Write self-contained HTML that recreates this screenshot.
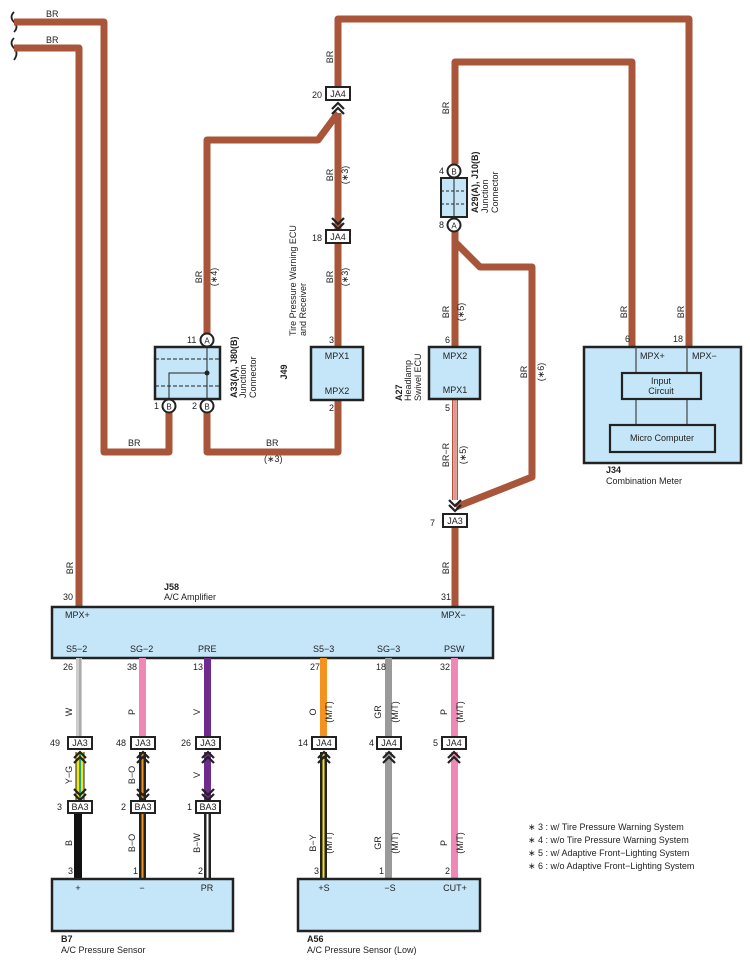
<!DOCTYPE html>
<html><head><meta charset="utf-8"><style>
html,body{margin:0;padding:0;background:#fff}
svg{display:block}
text{font-family:"Liberation Sans",sans-serif;font-size:9px;fill:#222}
.b{font-weight:bold}
.w{fill:none;stroke:#a9553a;stroke-width:7;stroke-linejoin:round}
.box{fill:#c5e6f8;stroke:#222;stroke-width:2.5}
.cn{fill:#fff;stroke:#222;stroke-width:2}
.ch{fill:none;stroke:#222;stroke-width:2.2}
</style></head><body>
<svg width="750" height="965" viewBox="0 0 750 965" xmlns="http://www.w3.org/2000/svg">
<defs>
<g id="up"><polyline class="ch" points="-6,6 0,0 6,6"/><polyline class="ch" points="-6,11 0,5 6,11"/></g>
<g id="dn"><polyline class="ch" points="-6,-6 0,0 6,-6"/><polyline class="ch" points="-6,-11 0,-5 6,-11"/></g>
</defs>
<path d="M14,12 q-5,5 0,10 q5,5 0,10" fill="none" stroke="#222" stroke-width="1.8"/>
<path d="M14,38 q-5,5 0,10 q5,5 0,12" fill="none" stroke="#222" stroke-width="1.8"/>
<text x="46" y="17">BR</text><text x="46" y="43">BR</text>
<path class="w" d="M14,22 H104 V452 H169 V411"/>
<path class="w" d="M14,48 H79 V608"/>
<text x="128" y="446">BR</text>
<path class="w" d="M338,101 V19 H689 V346"/>
<path class="w" d="M338,113 L318,140 H207 V334"/>
<path class="w" d="M338,113 V230"/>
<path class="w" d="M338,244 V346"/>
<path class="w" d="M338,400 V452 H207 V411"/>
<text x="266" y="446">BR</text><text x="264" y="462">(∗3)</text>
<path class="w" d="M455,164 V62 H632 V346"/>
<path class="w" d="M455,231 V346"/>
<path class="w" d="M455,242 L480,267 H532 V477 L456,507"/>
<path class="w" d="M455,528 V608"/>
<line x1="455" y1="400" x2="455" y2="500" stroke="#a9553a" stroke-width="6"/>
<line x1="455" y1="400" x2="455" y2="500" stroke="#fff" stroke-width="3"/>
<line x1="455" y1="400" x2="455" y2="500" stroke="#d23" stroke-width="1"/>
<g transform="rotate(-90)">
<text x="-57" y="333" text-anchor="middle">BR</text>
<text x="-108" y="449" text-anchor="middle">BR</text>
<text x="-175" y="333" text-anchor="middle">BR</text><text x="-175" y="348" text-anchor="middle">(∗3)</text>
<text x="-277" y="333" text-anchor="middle">BR</text><text x="-277" y="348" text-anchor="middle">(∗3)</text>
<text x="-277" y="202" text-anchor="middle">BR</text><text x="-277" y="217" text-anchor="middle">(∗4)</text>
<text x="-312" y="449" text-anchor="middle">BR</text><text x="-312" y="464" text-anchor="middle">(∗5)</text>
<text x="-312" y="627" text-anchor="middle">BR</text><text x="-312" y="684" text-anchor="middle">BR</text>
<text x="-372" y="527" text-anchor="middle">BR</text><text x="-372" y="544" text-anchor="middle">(∗6)</text>
<text x="-455" y="449" text-anchor="middle">BR−R</text><text x="-455" y="466" text-anchor="middle">(∗5)</text>
<text x="-568" y="73" text-anchor="middle">BR</text><text x="-568" y="449" text-anchor="middle">BR</text>
<text x="-372" y="287" text-anchor="middle" class="b">J49</text>
<text x="-336" y="296">Tire Pressure Warning ECU</text>
<text x="-336" y="306">and Receiver</text>
<text x="-398" y="237" class="b">A33(A), J80(B)</text>
<text x="-398" y="246">Junction</text>
<text x="-398" y="256">Connector</text>
<text x="-213" y="478" class="b">A29(A), J10(B)</text>
<text x="-213" y="488">Junction</text>
<text x="-213" y="498">Connector</text>
<text x="-401" y="402" class="b">A27</text>
<text x="-401" y="411">Headlamp</text>
<text x="-401" y="421">Swivel ECU</text>
</g>
<text x="312" y="98">20</text><rect class="cn" x="326" y="87" width="24" height="13"/><text x="338" y="97" text-anchor="middle">JA4</text>
<use href="#up" x="338" y="103"/>
<use href="#dn" x="338" y="229"/>
<text x="312" y="241">18</text><rect class="cn" x="326" y="230" width="24" height="13"/><text x="338" y="240" text-anchor="middle">JA4</text>
<rect class="box" x="155" y="347" width="65" height="52"/>
<line x1="155" y1="359" x2="220" y2="359" stroke="#222" stroke-dasharray="4,2"/>
<line x1="155" y1="386" x2="220" y2="386" stroke="#222" stroke-dasharray="4,2"/>
<polyline points="169,406 169,373 207,373" fill="none" stroke="#222" stroke-width="1"/>
<line x1="207" y1="340" x2="207" y2="406" stroke="#222" stroke-width="1"/>
<circle cx="207" cy="373" r="2.5" fill="#222"/>
<circle cx="207" cy="340" r="6.5" fill="#fff" stroke="#222" stroke-width="2"/><text x="207" y="343.5" text-anchor="middle" style="font-size:8px">A</text>
<circle cx="169" cy="406" r="6.5" fill="#fff" stroke="#222" stroke-width="2"/><text x="169" y="409.5" text-anchor="middle" style="font-size:8px">B</text>
<circle cx="207" cy="406" r="6.5" fill="#fff" stroke="#222" stroke-width="2"/><text x="207" y="409.5" text-anchor="middle" style="font-size:8px">B</text>
<text x="187" y="343">11</text><text x="154" y="409">1</text><text x="192" y="409">2</text>
<rect class="box" x="311" y="347" width="52" height="53"/>
<text x="337" y="359" text-anchor="middle">MPX1</text><text x="337" y="394" text-anchor="middle">MPX2</text>
<text x="329" y="343">3</text><text x="329" y="411">2</text>
<rect x="441" y="178" width="26" height="39" fill="#c5e6f8" stroke="#222" stroke-width="2"/>
<line x1="454" y1="178" x2="454" y2="217" stroke="#222"/>
<line x1="441" y1="191" x2="467" y2="191" stroke="#222" stroke-dasharray="3,2"/>
<line x1="441" y1="204" x2="467" y2="204" stroke="#222" stroke-dasharray="3,2"/>
<circle cx="454" cy="171" r="6.5" fill="#fff" stroke="#222" stroke-width="2"/><text x="454" y="174.5" text-anchor="middle" style="font-size:8px">B</text>
<circle cx="454" cy="225" r="6.5" fill="#fff" stroke="#222" stroke-width="2"/><text x="454" y="228.5" text-anchor="middle" style="font-size:8px">A</text>
<text x="439" y="174">4</text><text x="439" y="228">8</text>
<rect class="box" x="429" y="347" width="51" height="52"/>
<text x="455" y="359" text-anchor="middle">MPX2</text><text x="455" y="393" text-anchor="middle">MPX1</text>
<text x="445" y="343">6</text><text x="445" y="411">5</text>
<use href="#dn" x="455" y="511"/>
<text x="430" y="526">7</text><rect class="cn" x="443" y="514" width="24" height="13"/><text x="455" y="524" text-anchor="middle">JA3</text>
<rect class="box" x="584" y="347" width="157" height="116"/>
<line x1="636" y1="347" x2="636" y2="425" stroke="#444" stroke-width="1.2"/>
<line x1="687" y1="347" x2="687" y2="425" stroke="#444" stroke-width="1.2"/>
<rect x="622" y="373" width="79" height="26" fill="#c5e6f8" stroke="#222" stroke-width="2.2"/>
<text x="661" y="384" text-anchor="middle">Input</text><text x="661" y="394" text-anchor="middle">Circuit</text>
<rect x="610" y="425" width="105" height="27" fill="#c5e6f8" stroke="#222" stroke-width="2.2"/>
<text x="662" y="441" text-anchor="middle">Micro Computer</text>
<text x="640" y="359">MPX+</text><text x="692" y="359">MPX−</text>
<text x="625" y="342">6</text><text x="673" y="342">18</text>
<text x="606" y="473" class="b">J34</text><text x="606" y="484">Combination Meter</text>
<text x="164" y="590" class="b">J58</text><text x="164" y="600">A/C Amplifier</text>
<text x="63" y="600">30</text><text x="441" y="600">31</text>
<rect class="box" x="52" y="607" width="441" height="51"/>
<text x="65" y="618">MPX+</text><text x="441" y="618">MPX−</text>
<text x="66" y="652">S5−2</text><text x="130" y="652">SG−2</text><text x="198" y="652">PRE</text>
<text x="313" y="652">S5−3</text><text x="377" y="652">SG−3</text><text x="444" y="652">PSW</text>
<rect x="76" y="658" width="6" height="78" fill="#ccc"/><line x1="80" y1="658" x2="80" y2="736" stroke="#888" stroke-width="1"/>
<rect x="139" y="658" width="7" height="78" fill="#ef88b4"/>
<rect x="204" y="658" width="7" height="78" fill="#6e2a8c"/>
<rect x="320" y="658" width="7" height="78" fill="#f4921f"/>
<rect x="385" y="658" width="7" height="78" fill="#9a9a9a"/>
<rect x="451" y="658" width="7" height="78" fill="#ef88b4"/>
<text x="63" y="670">26</text><text x="127" y="670">38</text><text x="193" y="670">13</text>
<text x="310" y="670">27</text><text x="376" y="670">18</text><text x="440" y="670">32</text>
<rect x="76" y="752" width="8" height="48" fill="#f5e21a"/><rect x="79" y="752" width="2" height="48" fill="#1aa88c"/>
<line x1="76" y1="752" x2="76" y2="800" stroke="#222"/><line x1="84" y1="752" x2="84" y2="800" stroke="#222"/>
<rect x="139" y="752" width="7" height="48" fill="#222"/><rect x="141.5" y="752" width="2" height="48" fill="#f4921f"/>
<rect x="204" y="752" width="7" height="48" fill="#6e2a8c"/>
<rect x="320" y="752" width="7" height="127" fill="#222"/><rect x="322.5" y="752" width="2" height="127" fill="#f5e21a"/>
<rect x="385" y="752" width="7" height="127" fill="#9a9a9a"/>
<rect x="451" y="752" width="7" height="127" fill="#ef88b4"/>
<rect x="74" y="813" width="8" height="66" fill="#111"/>
<rect x="139" y="813" width="7" height="66" fill="#222"/><rect x="141.5" y="813" width="2" height="66" fill="#f4921f"/>
<rect x="204" y="813" width="7" height="66" fill="#222"/><rect x="206.5" y="813" width="2" height="66" fill="#fff"/>
<g>
<text x="50" y="746">49</text><rect class="cn" x="68" y="737" width="24" height="12"/><text x="80" y="746" text-anchor="middle">JA3</text>
<text x="116" y="746">48</text><rect class="cn" x="131" y="737" width="24" height="12"/><text x="143" y="746" text-anchor="middle">JA3</text>
<text x="181" y="746">26</text><rect class="cn" x="196" y="737" width="24" height="12"/><text x="208" y="746" text-anchor="middle">JA3</text>
<text x="298" y="746">14</text><rect class="cn" x="312" y="737" width="24" height="12"/><text x="324" y="746" text-anchor="middle">JA4</text>
<text x="369" y="746">4</text><rect class="cn" x="377" y="737" width="24" height="12"/><text x="389" y="746" text-anchor="middle">JA4</text>
<text x="433" y="746">5</text><rect class="cn" x="442" y="737" width="24" height="12"/><text x="454" y="746" text-anchor="middle">JA4</text>
<text x="57" y="810">3</text><rect class="cn" x="68" y="801" width="24" height="12"/><text x="80" y="810" text-anchor="middle">BA3</text>
<text x="121" y="810">2</text><rect class="cn" x="131" y="801" width="24" height="12"/><text x="143" y="810" text-anchor="middle">BA3</text>
<text x="187" y="810">1</text><rect class="cn" x="196" y="801" width="24" height="12"/><text x="208" y="810" text-anchor="middle">BA3</text>
</g>
<use href="#up" x="80" y="752"/><use href="#dn" x="80" y="800"/>
<use href="#up" x="143" y="752"/><use href="#dn" x="143" y="800"/>
<use href="#up" x="208" y="752"/><use href="#dn" x="208" y="800"/>
<use href="#up" x="324" y="752"/><use href="#up" x="389" y="752"/><use href="#up" x="454" y="752"/>
<g transform="rotate(-90)">
<text x="-712" y="72" text-anchor="middle">W</text>
<text x="-712" y="135" text-anchor="middle">P</text>
<text x="-712" y="200" text-anchor="middle">V</text>
<text x="-712" y="316" text-anchor="middle">O</text><text x="-712" y="332" text-anchor="middle">(M/T)</text>
<text x="-712" y="381" text-anchor="middle">GR</text><text x="-712" y="398" text-anchor="middle">(M/T)</text>
<text x="-712" y="447" text-anchor="middle">P</text><text x="-712" y="463" text-anchor="middle">(M/T)</text>
<text x="-775" y="72" text-anchor="middle">Y−G</text>
<text x="-775" y="135" text-anchor="middle">B−O</text>
<text x="-775" y="200" text-anchor="middle">V</text>
<text x="-843" y="72" text-anchor="middle">B</text>
<text x="-843" y="135" text-anchor="middle">B−O</text>
<text x="-843" y="200" text-anchor="middle">B−W</text>
<text x="-843" y="316" text-anchor="middle">B−Y</text><text x="-843" y="332" text-anchor="middle">(M/T)</text>
<text x="-843" y="381" text-anchor="middle">GR</text><text x="-843" y="398" text-anchor="middle">(M/T)</text>
<text x="-843" y="447" text-anchor="middle">P</text><text x="-843" y="463" text-anchor="middle">(M/T)</text>
</g>
<text x="68" y="874">3</text><text x="133" y="874">1</text><text x="198" y="874">2</text>
<text x="314" y="874">3</text><text x="379" y="874">1</text><text x="445" y="874">2</text>
<rect class="box" x="52" y="879" width="181" height="52"/>
<text x="78" y="891" text-anchor="middle">+</text><text x="142" y="891" text-anchor="middle">−</text><text x="207" y="891" text-anchor="middle">PR</text>
<text x="61" y="942" class="b">B7</text><text x="61" y="953">A/C Pressure Sensor</text>
<rect class="box" x="298" y="879" width="182" height="52"/>
<text x="324" y="891" text-anchor="middle">+S</text><text x="390" y="891" text-anchor="middle">−S</text><text x="455" y="891" text-anchor="middle">CUT+</text>
<text x="307" y="942" class="b">A56</text><text x="307" y="953">A/C Pressure Sensor (Low)</text>
<text x="528" y="830">∗ 3 : w/ Tire Pressure Warning System</text>
<text x="528" y="843">∗ 4 : w/o Tire Pressure Warning System</text>
<text x="528" y="856">∗ 5 : w/ Adaptive Front−Lighting System</text>
<text x="528" y="869">∗ 6 : w/o Adaptive Front−Lighting System</text>
</svg>
</body></html>
